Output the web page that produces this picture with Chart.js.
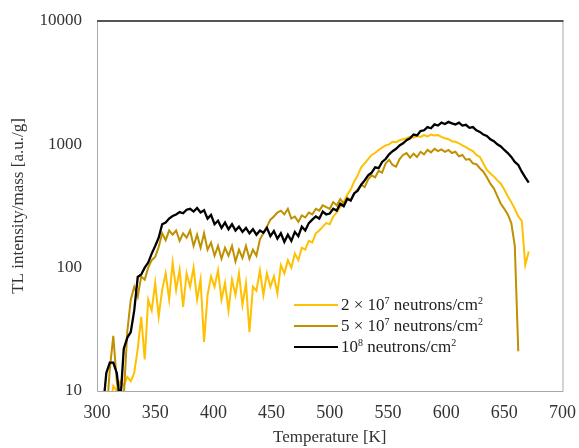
<!DOCTYPE html>
<html>
<head>
<meta charset="utf-8">
<script src="https://cdn.jsdelivr.net/npm/chart.js@4.4.0/dist/chart.umd.min.js"></script>
<style>
  html, body { margin: 0; padding: 0; background: #fff; }
  #wrap { position: relative; width: 579px; height: 448px; }
  #legend { position: absolute; left: 294px; top: 294px; font-family: "Liberation Serif", serif; font-size: 17px; color: #222; }
  #legend .row { display: flex; align-items: center; height: 21px; white-space: nowrap; }
  #legend .swatch { width: 44px; height: 2px; margin-right: 3px; }
  #legend sup { font-size: 10px; vertical-align: 6px; line-height: 0; }
</style>
</head>
<body>
<div id="wrap">
  <canvas id="tlChart" width="579" height="448"></canvas>
  <div id="legend"></div>
</div>
<script>
// Temperature grid [K] shared by the three glow curves
const temperatures = [302,305,308,311,314,317,320,323,326,329,332,335,338,341,344,347,350,353,356,359,
  362,365,368,371,374,377,380,383,386,389,392,395,398,401,404,407,410,413,416,419,
  422,425,428,431,434,437,440,443,446,449,452,455,458,461,464,467,470,473,476,479,
  482,485,488,491,494,497,500,503,506,509,512,515,518,521,524,527,530,533,536,539,
  542,545,548,551,554,557,560,563,566,569,572,575,578,581,584,587,590,593,596,599,
  602,605,608,611,614,617,620,623,626,629,632,635,638,641,644,647,650,653,656,659,
  662,665,668,671];

// 2 x 10^7 neutrons/cm2
const fluence2e7 = [null,null,null,7,11,10,12,11,13,12,14,22,40,18,55,45,75,40,66,90,
  55,110,66,96,48,90,70,100,55,80,25,60,85,70,95,55,75,45,80,60,
  90,50,75,30,70,65,95,60,90,70,85,62,105,90,115,100,130,115,145,140,
  165,160,190,200,215,230,225,260,280,310,340,390,430,500,560,650,700,760,820,850,
  900,940,980,1000,1050,1040,1080,1100,1120,1150,1130,1170,1150,1190,1160,1200,1180,1190,1150,1120,
  1100,1060,1050,1020,980,950,910,880,820,790,700,620,580,550,510,480,430,380,340,300,
  260,240,105,135];

// 5 x 10^7 neutrons/cm2
const fluence5e7 = [null,null,6,15,28,12,7,9,30,55,70,58,85,80,100,115,122,147,190,167,
  200,185,200,165,190,175,200,150,185,145,190,140,160,125,150,118,145,125,150,112,
  140,120,150,118,140,125,170,190,215,245,260,280,290,270,300,250,260,235,265,255,
  280,270,300,290,320,310,300,340,320,360,330,370,350,400,430,470,450,520,560,540,
  610,590,700,750,680,660,760,820,850,780,840,790,870,830,900,860,920,880,910,870,
  900,850,870,800,820,750,760,700,690,640,600,540,480,440,380,330,300,270,230,150,
  21,null,null,null];

// 10^8 neutrons/cm2
const fluence1e8 = [null,7,14,17,17,14,8,22,27,30,45,84,88,100,110,130,150,175,225,232,
  250,262,270,282,276,295,300,285,305,280,292,250,268,225,240,210,232,205,225,200,
  215,195,210,190,205,185,200,192,210,180,198,172,190,162,185,165,195,180,215,200,
  230,245,260,250,285,270,275,300,290,330,315,360,350,400,420,470,510,560,590,650,
  640,720,760,830,880,920,980,1020,1080,1120,1200,1180,1280,1300,1380,1350,1450,1420,1500,1460,
  1520,1480,1450,1500,1420,1440,1360,1380,1300,1260,1200,1170,1100,1060,1000,960,900,850,790,720,
  680,600,540,490];

const seriesLabels = [
  '2 × 10<sup>7</sup> neutrons/cm<sup>2</sup>',
  '5 × 10<sup>7</sup> neutrons/cm<sup>2</sup>',
  '10<sup>8</sup> neutrons/cm<sup>2</sup>'
];
const seriesColors = ['#FFC000', '#BF9000', '#000000'];
const seriesValues = [fluence2e7, fluence5e7, fluence1e8];

const xTicks = [300, 350, 400, 450, 500, 550, 600, 650, 700];
const yTicks = [10, 100, 1000, 10000];

const serif = "'Liberation Serif', 'Times New Roman', serif";

const datasets = seriesValues.map((vals, i) => ({
  label: seriesLabels[i].replace(/<[^>]+>/g, ''),
  data: temperatures.map((t, k) => ({ x: t, y: vals[k] })),
  borderColor: seriesColors[i],
  backgroundColor: seriesColors[i],
  borderWidth: i === 2 ? 2.3 : 2,
  pointRadius: 0,
  tension: 0,
  spanGaps: false,
  order: 2 - i
}));

// frame around the plot area
const frame = {
  id: 'frame',
  afterDatasetsDraw(chart) {
    const { ctx, chartArea: a } = chart;
    ctx.save();
    ctx.strokeStyle = '#a8a8a8';
    ctx.lineWidth = 1;
    ctx.beginPath();
    ctx.moveTo(a.left + 0.5, a.top);
    ctx.lineTo(a.left + 0.5, a.bottom + 0.5);
    ctx.lineTo(a.right + 0.5, a.bottom + 0.5);
    ctx.lineTo(a.right + 0.5, a.top);
    ctx.stroke();
    ctx.strokeStyle = '#555';
    ctx.lineWidth = 2;
    ctx.beginPath();
    ctx.moveTo(a.left, a.top);
    ctx.lineTo(a.right + 1, a.top);
    ctx.stroke();
    ctx.restore();
  }
};

const ctx = document.getElementById('tlChart').getContext('2d');
const tlChart = new Chart(ctx, {
  type: 'line',
  data: { datasets },
  plugins: [frame],
  options: {
    responsive: false,
    animation: false,
    layout: { padding: { top: 21, right: 6, left: 0, bottom: 0 } },
    plugins: { legend: { display: false }, tooltip: { enabled: false } },
    scales: {
      x: {
        type: 'linear',
        min: 300,
        max: 700,
        afterBuildTicks: axis => { axis.ticks = xTicks.map(v => ({ value: v })); },
        afterFit: axis => { axis.height = 57; },
        grid: { display: false },
        border: { display: false },
        ticks: { padding: 3, color: '#333', font: { family: serif, size: 18 } },
        title: {
          display: true,
          text: 'Temperature [K]',
          color: '#333',
          padding: { top: 0, bottom: 0 },
          font: { family: serif, size: 17 }
        }
      },
      y: {
        type: 'logarithmic',
        min: 10,
        max: 10000,
        afterBuildTicks: axis => { axis.ticks = yTicks.map(v => ({ value: v })); },
        afterFit: axis => { axis.width = 97; },
        grid: { display: false },
        border: { display: false },
        ticks: {
          padding: 7,
          color: '#333',
          font: { family: serif, size: 17 },
          callback: v => String(v)
        },
        title: {
          display: true,
          text: 'TL intensity/mass [a.u./g]',
          color: '#333',
          padding: { top: 8, bottom: 0 },
          font: { family: serif, size: 17 }
        }
      }
    }
  }
});

// legend inside the plot
const legend = document.getElementById('legend');
seriesLabels.forEach((lab, i) => {
  const row = document.createElement('div');
  row.className = 'row';
  row.innerHTML = '<span class="swatch" style="background:' + seriesColors[i] + '"></span><span>' + lab + '</span>';
  legend.appendChild(row);
});
</script>
</body>
</html>
